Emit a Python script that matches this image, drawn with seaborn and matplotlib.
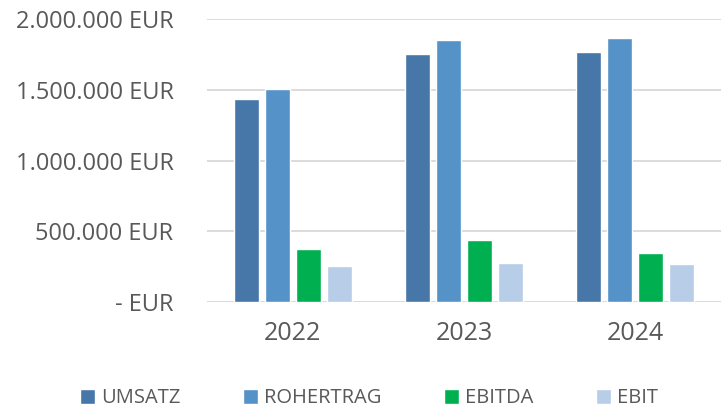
import pandas as pd
import seaborn as sns
import matplotlib.pyplot as plt
from matplotlib.patches import Patch

years = ["2022", "2023", "2024"]
kennzahlen = ["UMSATZ", "ROHERTRAG", "EBITDA", "EBIT"]
umsatz = [1436000, 1754000, 1766000]
rohertrag = [1505000, 1853000, 1870000]
ebitda = [373000, 441000, 347000]
ebit = [257000, 274000, 271000]
farben = ["#4677A8", "#5592C8", "#00B050", "#B7CDE8"]
ticks = [0, 500000, 1000000, 1500000, 2000000]
tick_labels = ["- EUR", "500.000 EUR", "1.000.000 EUR", "1.500.000 EUR", "2.000.000 EUR"]

rows = []
for name, werte in zip(kennzahlen, [umsatz, rohertrag, ebitda, ebit]):
    for j, w in zip(years, werte):
        rows.append({"Jahr": j, "Kennzahl": name, "Wert": w})
df = pd.DataFrame(rows)

sns.set_style("white")
plt.rcParams["font.family"] = ["Open Sans", "DejaVu Sans"]
text_col = "#595959"

fig = plt.figure(figsize=(7.26, 4.08), dpi=100)
ax = fig.add_axes([0.285, 0.26, 0.708, 0.693])

sns.barplot(data=df, x="Jahr", y="Wert", hue="Kennzahl", order=years,
            hue_order=kennzahlen, palette=farben, width=0.724, gap=0.19,
            saturation=1, legend=False, ax=ax)

ax.set_ylim(0, 2000000)
ax.set_xlim(-0.5, 2.5)
ax.set_yticks(ticks)
ax.set_yticklabels(tick_labels)
ax.yaxis.grid(True, color="#D9D9D9", linewidth=1.3)
ax.set_axisbelow(True)
for s in ax.spines.values():
    s.set_visible(False)
ax.axhline(0, color="#D9D9D9", linewidth=1.3, zorder=0)
ax.tick_params(axis="y", length=0, pad=24, labelsize=17, labelcolor=text_col)
ax.tick_params(axis="x", length=0, pad=14, labelsize=18, labelcolor=text_col)
ax.set_xlabel("")
ax.set_ylabel("")

handles = [Patch(facecolor=c, label=k) for c, k in zip(farben, kennzahlen)]
fig.legend(handles=handles, loc="center", bbox_to_anchor=(0.508, 0.024), ncol=4,
           frameon=False, fontsize=14.5, labelcolor=text_col, handlelength=0.75,
           handleheight=0.75, handletextpad=0.3, columnspacing=3.1,
           borderpad=0.1)

fig.savefig("out.png", dpi=100)
